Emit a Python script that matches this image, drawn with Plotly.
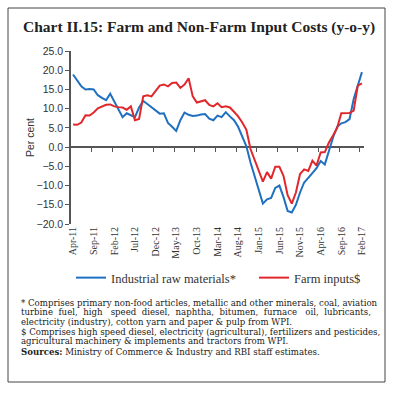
import numpy as np
import pandas as pd
import plotly.graph_objects as go

# ---------------- data ----------------
months = list(pd.date_range("2011-04-01", periods=71, freq="MS").strftime("%b-%y"))

industrial_raw = [
    18.9, 17.3, 15.8, 15.0, 15.1, 15.0, 13.5, 12.8, 12.2, 13.9,
    11.8, 9.6, 7.8, 8.8, 8.2, 7.8, 10.3, 12.0, 11.2, 10.3,
    9.5, 8.7, 8.8, 6.3, 5.3, 4.2, 7.0, 9.0, 8.4, 8.1,
    8.2, 8.5, 8.6, 7.4, 7.0, 8.2, 7.8, 9.1, 8.0, 7.0,
    5.3, 2.5, 0.2, -4.0, -7.8, -11.5, -14.7, -13.6, -13.2, -10.6,
    -10.0, -13.0, -16.6, -17.0, -15.0, -11.8, -9.2, -8.0, -6.6, -5.5,
    -3.6, -4.5, -1.0, 2.5, 5.3, 6.2, 6.5, 7.3, 12.5, 16.0,
    19.5,
]
farm_inputs = [
    5.9, 5.8, 6.4, 8.3, 8.2, 9.0, 10.1, 10.6, 11.0, 11.1,
    10.6, 10.4, 10.3, 9.7, 10.6, 7.0, 7.3, 13.2, 13.5, 13.2,
    14.5, 16.0, 16.3, 15.8, 16.7, 16.8, 15.4, 16.3, 17.9, 13.2,
    11.6, 12.0, 12.2, 11.0, 10.6, 11.4, 10.4, 10.6, 10.3, 9.2,
    8.0, 6.4, 4.5, -0.5, -3.5, -6.0, -9.0, -6.5, -8.2, -5.1,
    -5.1, -7.5, -12.5, -14.7, -11.8, -7.0, -5.8, -6.2, -3.5, -4.8,
    -1.4, -1.3, 1.2, 3.0, 5.0, 8.8, 8.8, 8.9, 9.5, 16.0,
    16.6,
]
y_ticks = [-20, -15, -10, -5, 0, 5, 10, 15, 20, 25]
label_step = 5

title_text = "Chart II.15: Farm and Non-Farm Input Costs (y-o-y)"
series_names = ["Industrial raw materials*", "Farm inputs$"]
footnotes = [
    "* Comprises primary non-food articles, metallic and other minerals, coal, aviation",
    "turbine fuel, high speed diesel, naphtha, bitumen, furnace oil, lubricants,",
    "electricity (industry), cotton yarn and paper & pulp from WPI.",
    "$ Comprises high speed diesel, electricity (agricultural), fertilizers and pesticides,",
    "agricultural machinery & implements and tractors from WPI.",
    "<b>Sources:</b> Ministry of Commerce & Industry and RBI staff estimates.",
]
# extra spaces per word gap to imitate the justified paragraph
footnote_pad = [0, 1.2, 0, 0, 0, 0]
footnote_y = [302.5, 312, 321.5, 331.5, 341, 351.5]

# ---------------- layout helpers ----------------
FW, FH = 396, 394
L, T, W, H = 71, 51, 293, 173
def px(x):
    return (x - L) / W
def py(y):
    return (T + H - y) / H

def justify(text, pad):
    words = text.split(" ")
    out = words[0]
    for i, w in enumerate(words[1:]):
        n = int((i + 1) * pad + 0.5) - int(i * pad + 0.5)
        out += " " + "\u00a0" * n + w
    return out

idx = np.arange(len(months))
BLUE = "#1f70c1"
RED = "#e0282c"
AXC = "#555555"
SERIF = "Liberation Serif, DejaVu Serif, serif"
WSERIF = "DejaVu Serif, Liberation Serif, serif"
SANS = "Liberation Sans, Arial, sans-serif"

fig = go.Figure()
fig.add_trace(go.Scatter(x=idx, y=industrial_raw, mode="lines", name=series_names[0],
                         line=dict(color=BLUE, width=2), legend="legend"))
fig.add_trace(go.Scatter(x=idx, y=farm_inputs, mode="lines", name=series_names[1],
                         line=dict(color=RED, width=2), legend="legend2"))
# empty trace to carry the zero-line tick axis
fig.add_trace(go.Scatter(x=idx, y=[None] * len(idx), xaxis="x2", showlegend=False,
                         hoverinfo="skip"))

legend_font = dict(family=SERIF, size=12.5, color="#333")
xr = [-0.5, len(months) - 0.5]
fig.update_layout(
    width=FW, height=FH,
    margin=dict(l=L, r=FW - L - W, t=T, b=FH - T - H, pad=0),
    paper_bgcolor="white", plot_bgcolor="white",
    showlegend=True,
    xaxis=dict(range=xr, tickvals=list(idx[::label_step]),
               ticktext=months[::label_step], tickangle=-90,
               showline=False, ticks="", showgrid=False, zeroline=False,
               tickfont=dict(family=SERIF, size=10, color="#333")),
    xaxis2=dict(range=xr, overlaying="x", anchor="free", position=20 / 45,
                side="bottom", tickvals=list(idx[label_step - 1::label_step] + 0.5),
                ticks="outside", ticklen=4, tickwidth=1.3, tickcolor=AXC,
                showticklabels=False, showline=False, showgrid=False, zeroline=False),
    yaxis=dict(range=[-20, 25], tickvals=y_ticks, tickformat=".1f",
               showline=True, linecolor=AXC, linewidth=1.5,
               ticks="outside", ticklen=4, tickwidth=1.3, tickcolor=AXC,
               showgrid=False, zeroline=True, zerolinecolor=AXC, zerolinewidth=1.5,
               tickfont=dict(family=SANS, size=10.5, color="#333"),
               title=dict(text="Per cent", standoff=0,
                          font=dict(family=SANS, size=10.5, color="#333"))),
    legend=dict(orientation="h", x=px(71), y=py(278), xanchor="left", yanchor="middle",
                font=legend_font, bgcolor="rgba(0,0,0,0)"),
    legend2=dict(orientation="h", x=px(254), y=py(278), xanchor="left", yanchor="middle",
                 font=legend_font, bgcolor="rgba(0,0,0,0)"),
)

annotations = [dict(text="<b>" + title_text + "</b>", xref="paper", yref="paper",
                    x=px(21), y=py(27), xanchor="left", yanchor="middle",
                    showarrow=False, font=dict(family=SERIF, size=15.5, color="#222"))]
for txt, pad, yy in zip(footnotes, footnote_pad, footnote_y):
    annotations.append(dict(text=justify(txt, pad), xref="paper", yref="paper",
                            x=px(19), y=py(yy),
                            xanchor="left", yanchor="middle", showarrow=False,
                            font=dict(family=WSERIF, size=8.6, color="#222")))
fig.update_layout(annotations=annotations)

fig.add_shape(type="rect", xref="paper", yref="paper",
              x0=px(8), x1=px(385), y0=py(382), y1=py(8),
              line=dict(color="#444", width=1), fillcolor="rgba(0,0,0,0)")

fig.write_html("out.html", config={"displayModeBar": False},
               post_script="document.body.style.margin='0';")
